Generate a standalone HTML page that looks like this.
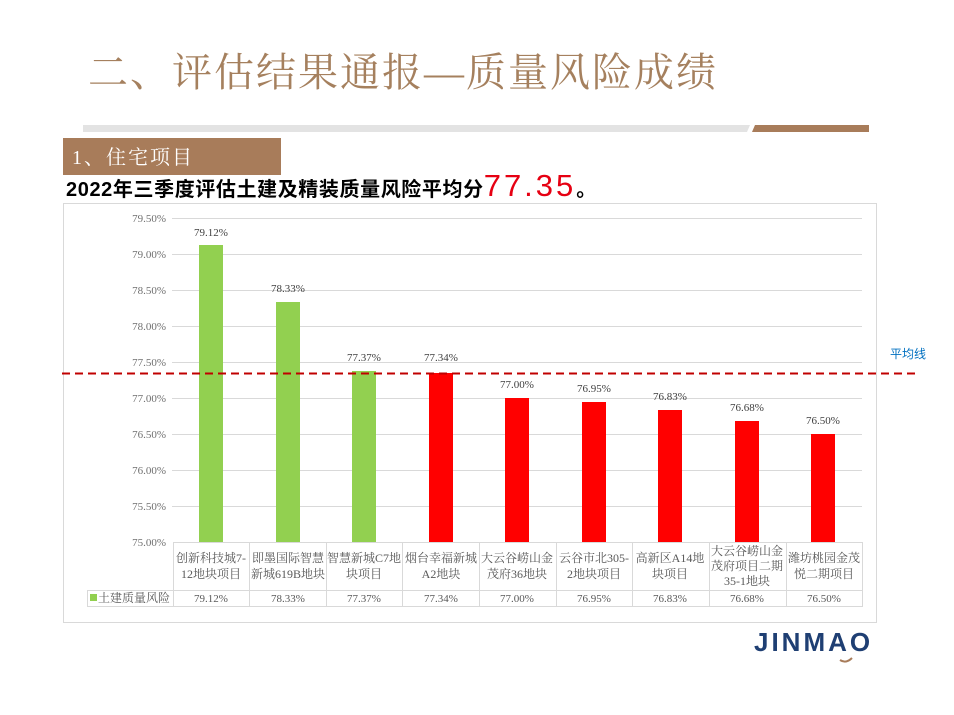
<!DOCTYPE html>
<html><head><meta charset="utf-8"><style>
body{margin:0;background:#fff;}
svg{display:block}
</style></head><body>
<svg width="954" height="715" xmlns="http://www.w3.org/2000/svg" font-family="'Liberation Serif','Noto Serif CJK SC',serif">
<text x="88" y="86" font-size="40" fill="#a5805e" font-family="'Liberation Serif','Noto Serif CJK SC',serif" letter-spacing="2">二、评估结果通报—质量风险成绩</text>
<polygon points="83,125 750,125 747,132 83,132" fill="#e3e3e3"/>
<polygon points="755,125 869,125 869,132 752,132" fill="#a87c5a"/>
<rect x="63" y="138" width="218" height="37" fill="#a87c5a"/>
<text x="72" y="164" font-size="20" fill="#fff" letter-spacing="2">1、住宅项目</text>
<text x="66" y="196" font-size="20" font-weight="bold" fill="#000" font-family="'Liberation Sans','Noto Sans CJK SC',sans-serif" letter-spacing="0.6">2022年三季度评估土建及精装质量风险平均分<tspan font-size="31" fill="#e60012" font-weight="normal" letter-spacing="3">77.35</tspan>。</text>
<rect x="63.5" y="203.5" width="813" height="419" fill="#fff" stroke="#d9d9d9"/>
<g stroke="#d9d9d9" stroke-width="1">
<line x1="172" y1="218.5" x2="862" y2="218.5"/><line x1="172" y1="254.5" x2="862" y2="254.5"/><line x1="172" y1="290.5" x2="862" y2="290.5"/><line x1="172" y1="326.5" x2="862" y2="326.5"/><line x1="172" y1="362.5" x2="862" y2="362.5"/><line x1="172" y1="398.5" x2="862" y2="398.5"/><line x1="172" y1="434.5" x2="862" y2="434.5"/><line x1="172" y1="470.5" x2="862" y2="470.5"/><line x1="172" y1="506.5" x2="862" y2="506.5"/>
</g>
<g font-size="11" fill="#707070" text-anchor="end">
<text x="166" y="222">79.50%</text><text x="166" y="258">79.00%</text><text x="166" y="294">78.50%</text><text x="166" y="330">78.00%</text><text x="166" y="366">77.50%</text><text x="166" y="402">77.00%</text><text x="166" y="438">76.50%</text><text x="166" y="474">76.00%</text><text x="166" y="510">75.50%</text><text x="166" y="546">75.00%</text>
</g>
<g>
<rect x="199" y="245" width="24" height="297" fill="#92d050"/>
<rect x="276" y="302" width="24" height="240" fill="#92d050"/>
<rect x="352" y="371" width="24" height="171" fill="#92d050"/>
<rect x="429" y="373" width="24" height="169" fill="#ff0000"/>
<rect x="505" y="398" width="24" height="144" fill="#ff0000"/>
<rect x="582" y="402" width="24" height="140" fill="#ff0000"/>
<rect x="658" y="410" width="24" height="132" fill="#ff0000"/>
<rect x="735" y="421" width="24" height="121" fill="#ff0000"/>
<rect x="811" y="434" width="24" height="108" fill="#ff0000"/>
</g>
<g font-size="11" fill="#404040" text-anchor="middle">
<text x="211" y="236">79.12%</text><text x="288" y="292">78.33%</text><text x="364" y="361">77.37%</text><text x="441" y="361">77.34%</text><text x="517" y="388">77.00%</text><text x="594" y="392">76.95%</text><text x="670" y="400">76.83%</text><text x="747" y="411">76.68%</text><text x="823" y="424">76.50%</text>
</g>
<line x1="62" y1="373.5" x2="920" y2="373.5" stroke="#c00000" stroke-width="2" stroke-dasharray="8,5"/>
<text x="890" y="358" font-size="12" fill="#0070c0" font-family="'Liberation Sans','Noto Sans CJK SC',sans-serif">平均线</text>
<g stroke="#d9d9d9" stroke-width="1" fill="none">
<line x1="173" y1="542.5" x2="862" y2="542.5"/>
<line x1="87" y1="590.5" x2="862" y2="590.5"/>
<line x1="87" y1="606.5" x2="862" y2="606.5"/>
<line x1="87.5" y1="590" x2="87.5" y2="607"/>
<line x1="173.5" y1="542" x2="173.5" y2="607"/><line x1="249.5" y1="542" x2="249.5" y2="607"/><line x1="326.5" y1="542" x2="326.5" y2="607"/><line x1="402.5" y1="542" x2="402.5" y2="607"/><line x1="479.5" y1="542" x2="479.5" y2="607"/><line x1="556.5" y1="542" x2="556.5" y2="607"/><line x1="632.5" y1="542" x2="632.5" y2="607"/><line x1="709.5" y1="542" x2="709.5" y2="607"/><line x1="786.5" y1="542" x2="786.5" y2="607"/><line x1="862.5" y1="542" x2="862.5" y2="607"/>
</g>
<g font-size="12" fill="#595959" text-anchor="middle">
<text x="211" y="562">创新科技城7-</text><text x="211" y="578">12地块项目</text>
<text x="288" y="562">即墨国际智慧</text><text x="288" y="578">新城619B地块</text>
<text x="364" y="562">智慧新城C7地</text><text x="364" y="578">块项目</text>
<text x="441" y="562">烟台幸福新城</text><text x="441" y="578">A2地块</text>
<text x="517" y="562">大云谷崂山金</text><text x="517" y="578">茂府36地块</text>
<text x="594" y="562">云谷市北305-</text><text x="594" y="578">2地块项目</text>
<text x="670" y="562">高新区A14地</text><text x="670" y="578">块项目</text>
<text x="747" y="555">大云谷崂山金</text><text x="747" y="570">茂府项目二期</text><text x="747" y="585">35-1地块</text>
<text x="824" y="562">潍坊桃园金茂</text><text x="824" y="578">悦二期项目</text>
</g>
<rect x="90" y="594" width="7" height="7" fill="#92d050"/>
<text x="98" y="602" font-size="12" fill="#595959">土建质量风险</text>
<g font-size="11" fill="#595959" text-anchor="middle">
<text x="211" y="602">79.12%</text><text x="288" y="602">78.33%</text><text x="364" y="602">77.37%</text><text x="441" y="602">77.34%</text><text x="517" y="602">77.00%</text><text x="594" y="602">76.95%</text><text x="670" y="602">76.83%</text><text x="747" y="602">76.68%</text><text x="824" y="602">76.50%</text>
</g>
<text x="754" y="651" font-size="26" font-weight="bold" fill="#1f3f73" font-family="'Liberation Sans',sans-serif" letter-spacing="3">JINMAO</text>
<path d="M840 660 q6 4 12 -2" stroke="#a87c5a" stroke-width="2" fill="none"/>
</svg>
</body></html>
